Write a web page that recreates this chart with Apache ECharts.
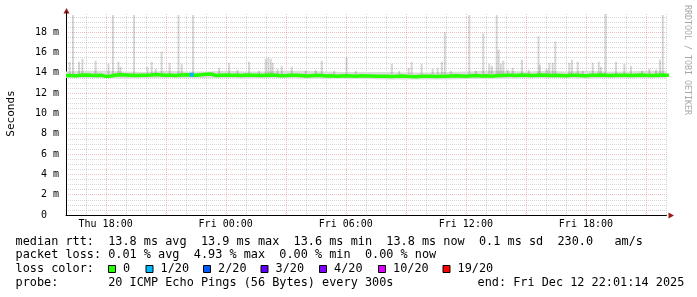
<!DOCTYPE html>
<html>
<head>
<meta charset="utf-8">
<script src="https://cdn.jsdelivr.net/npm/echarts@6/dist/echarts.min.js"></script>
<style>
html,body{margin:0;padding:0;background:#fff;}
#chart{width:697px;height:297px;}
</style>
</head>
<body>
<div id="chart"></div>
<script>
// ---------------- DATA ----------------
// x axis in hours counted from Thu 00:00 (Fri = 24+)
const startHour = 16 + 1/60 + 14/3600;   // Thu 16:01:14
const endHour = startHour + 30;          // Fri 22:01:14
const xTickHours = [18, 24, 30, 36, 42];
const xTickLabels = ['Thu 18:00', 'Fri 00:00', 'Fri 06:00', 'Fri 12:00', 'Fri 18:00'];
const hourGrid = [17,18,19,20,21,22,23,24,25,26,27,28,29,30,31,32,33,34,35,36,37,38,39,40,41,42,43,44,45,46];
const majorHourGrid = [18,21,24,27,30,33,36,39,42,45];

// median rtt (ms), one value every 15 minutes from startHour
const medianRtt = [
 13.75,13.74,13.72,13.78,13.80,13.76,13.74,13.76,13.66,13.70,13.80,13.82,13.80,13.78,13.74,13.76,13.78,13.80,13.84,13.80,13.76,13.76,13.74,13.80,13.82,13.80,13.76,13.82,13.86,13.88,13.74,
 13.78,13.80,13.76,13.78,13.74,13.80,13.78,13.76,13.74,13.78,13.80,13.76,13.72,13.74,13.78,13.76,13.74,13.70,13.72,13.76,13.74,13.70,13.72,13.68,13.70,13.72,13.70,13.68,13.72,13.70,
 13.70,13.68,13.66,13.68,13.64,13.66,13.70,13.66,13.64,13.62,13.66,13.68,13.66,13.64,13.66,13.68,13.70,13.72,13.70,13.68,13.72,13.74,13.70,13.72,13.68,13.72,13.74,13.76,13.78,13.74,
 13.80,13.78,13.74,13.76,13.80,13.78,13.74,13.76,13.74,13.72,13.76,13.78,13.74,13.72,13.76,13.78,13.80,13.76,13.74,13.76,13.78,13.76,13.74,13.78,13.80,13.76,13.74,13.78,13.80,13.76,13.78
];
// smoke band (lowest / highest ping), one value per hour from startHour
const smokeLow  = [13.50,13.50,13.50,13.45,13.50,13.50,13.50,13.50,13.50,13.45,13.50,13.50,13.45,13.45,13.45,13.40,13.35,13.35,13.35,13.35,13.40,13.45,13.45,13.50,13.50,13.50,13.45,13.50,13.50,13.50,13.50];
const smokeHigh = [14.15,14.20,14.20,14.15,14.10,14.20,14.15,14.15,14.20,14.15,14.15,14.20,14.20,14.15,14.10,14.10,14.10,14.05,14.05,14.10,14.15,14.20,14.20,14.15,14.20,14.15,14.20,14.15,14.15,14.20,14.20];
// smoke spikes: time (h) and highest ping (ms)
const spikeHours = [16.20,16.37,16.67,16.84,17.50,18.14,18.37,18.64,18.75,19.42,20.09,20.30,20.50,20.80,21.20,21.64,21.80,22.37,23.34,23.67,
 24.17,24.59,25.17,25.67,26.00,26.13,26.25,26.35,26.59,26.80,27.30,28.00,28.50,28.80,29.42,30.04,30.50,32.30,32.67,33.14,
 33.29,33.79,34.34,34.59,34.80,34.95,35.25,36.17,36.50,36.87,37.17,37.30,37.54,37.64,37.75,37.87,38.09,38.34,38.80,39.14,
 39.63,39.70,40.04,40.17,40.34,40.47,41.17,41.30,41.59,41.84,42.34,42.64,42.75,42.97,43.50,43.92,44.25,44.80,45.17,45.50,45.70,45.84];
const spikeTops = [15.1,19.7,15.1,15.4,15.2,14.9,19.7,15.1,14.6,19.7,14.6,15.1,14.4,16.1,15.0,19.7,14.9,19.7,14.1,14.5,
 15.0,14.3,15.1,14.2,15.4,15.5,15.4,15.0,14.4,14.7,14.6,14.2,14.3,15.2,14.2,15.5,14.2,14.9,14.2,14.5,
 15.1,14.9,14.4,14.5,15.1,18.0,14.2,19.7,14.2,17.9,14.9,14.7,19.7,16.3,14.9,15.2,14.3,14.5,15.3,14.3,
 17.6,14.8,14.4,15.0,15.0,17.1,15.0,15.3,15.1,14.2,15.0,15.1,14.6,19.8,15.1,14.9,14.7,14.2,14.4,14.3,15.3,19.7];
// loss events drawn on the median line: time (h), rtt (ms), loss legend index
const lossEvents = [[22.30, 13.82, 1]];

const lossLabels = ['0', '1/20', '2/20', '3/20', '4/20', '10/20', '19/20'];
const lossColors = ['#26ff00', '#00b8ff', '#0059ff', '#5e00ff', '#7e00ff', '#dd00ff', '#ff0000'];

const legendLine1 = 'median rtt:  13.8 ms avg  13.9 ms max  13.6 ms min  13.8 ms now  0.1 ms sd  230.0   am/s';
const legendLine2 = 'packet loss: 0.01 % avg  4.93 % max  0.00 % min  0.00 % now';
const legendLine3Label = 'loss color:';
const legendLine4 = 'probe:       20 ICMP Echo Pings (56 Bytes) every 300s';
const legendEnd = 'end: Fri Dec 12 22:01:14 2025';
const watermark = 'RRDTOOL / TOBI OETIKER';

// ---------------- CHART ----------------
const MONO = '"DejaVu Sans Mono", monospace';
const LEG_FONT = '11.85px ' + MONO;
const chart = echarts.init(document.getElementById('chart'), null, {renderer: 'canvas'});

const medianData = medianRtt.map((v, i) => [startHour + i * 0.25, v]);
const spikeData = spikeHours.map((h, i) => [h, spikeTops[i]]);

const majorGridColor = 'rgba(215,90,90,0.38)';
const minorGridColor = 'rgba(120,120,120,0.32)';

// layout positions for the loss-colour legend
const lossBoxX = [108.5, 146, 203.5, 261, 319.5, 378.5, 443];

const graphics = [
  {type: 'text', x: 15.5, y: 241.5, style: {text: legendLine1, font: LEG_FONT, fill: '#000', verticalAlign: 'middle'}},
  {type: 'text', x: 15.5, y: 255, style: {text: legendLine2, font: LEG_FONT, fill: '#000', verticalAlign: 'middle'}},
  {type: 'text', x: 15.5, y: 269, style: {text: legendLine3Label, font: LEG_FONT, fill: '#000', verticalAlign: 'middle'}},
  {type: 'text', x: 15.5, y: 282.5, style: {text: legendLine4, font: LEG_FONT, fill: '#000', verticalAlign: 'middle'}},
  {type: 'text', x: 477.5, y: 282.5, style: {text: legendEnd, font: LEG_FONT, fill: '#000', verticalAlign: 'middle'}},
  {type: 'text', x: 691.5, y: 5, rotation: -Math.PI / 2, style: {text: watermark, font: '8.3px ' + MONO, fill: '#a8a8a8', verticalAlign: 'top'}},
  // axis arrows
  {type: 'polygon', shape: {points: [[66.5, 8], [63.5, 13.5], [69.5, 13.5]]}, style: {fill: '#9a1c1c'}},
  {type: 'polygon', shape: {points: [[674, 215.5], [668.5, 212.5], [668.5, 218.5]]}, style: {fill: '#9a1c1c'}}
];
lossLabels.forEach((lab, k) => {
  graphics.push({type: 'rect', shape: {x: lossBoxX[k], y: 265.5, width: 7, height: 7},
    style: {fill: lossColors[k], stroke: '#000', lineWidth: 1}});
  graphics.push({type: 'text', x: lossBoxX[k] + 14.5, y: 269,
    style: {text: lab, font: LEG_FONT, fill: '#000', verticalAlign: 'middle'}});
});

const option = {
  animation: false,
  backgroundColor: '#fff',
  grid: {left: 66, right: 30.6, top: 12, bottom: 82, containLabel: false, outerBoundsMode: 'none'},
  xAxis: {
    type: 'value', min: startHour, max: endHour,
    axisLine: {show: true, lineStyle: {color: '#000', width: 1}},
    axisTick: {show: false},
    splitLine: {show: false},
    axisLabel: {
      customValues: xTickHours,
      formatter: v => xTickLabels[xTickHours.indexOf(Math.round(v))] || '',
      fontFamily: MONO, fontSize: 10, color: '#000', margin: 4
    }
  },
  yAxis: {
    type: 'value', min: 0, max: 20, interval: 2,
    name: 'Seconds', nameLocation: 'middle', nameGap: 49, nameRotate: 90,
    nameTextStyle: {fontFamily: MONO, fontSize: 11, color: '#000'},
    axisLine: {show: true, lineStyle: {color: '#000', width: 1}},
    axisTick: {show: false},
    axisLabel: {
      showMaxLabel: false,
      formatter: v => (v === 0 ? '0  ' : v + ' m'),
      fontFamily: MONO, fontSize: 10, color: '#000', margin: 7
    },
    splitLine: {show: true, showMaxLine: false, showMinLine: false, lineStyle: {color: majorGridColor, type: [1, 1], width: 1}},
    minorTick: {show: false, splitNumber: 4},
    minorSplitLine: {show: true, lineStyle: {color: minorGridColor, type: [1, 1], width: 1}}
  },
  graphic: graphics,
  series: [
    { // vertical grid lines
      type: 'custom', silent: true, z: 1,
      data: hourGrid.map(h => [h]),
      renderItem: (params, api) => {
        const h = api.value(0);
        const p0 = api.coord([h, 0]);
        const p1 = api.coord([h, 19.8]);
        const x = Math.round(p0[0]) + 0.5;
        const major = majorHourGrid.indexOf(h) >= 0;
        return {type: 'line', shape: {x1: x, y1: p0[1], x2: x, y2: p1[1]},
          style: {stroke: major ? majorGridColor : minorGridColor, lineWidth: 1, lineDash: [1, 1]}};
      }
    },
    { // smoke band
      type: 'custom', silent: true, z: 2,
      data: [[startHour, 14]],
      renderItem: (params, api) => {
        const pts = [];
        smokeHigh.forEach((v, i) => pts.push(api.coord([startHour + i, v])));
        for (let i = smokeLow.length - 1; i >= 0; i--) pts.push(api.coord([startHour + i, smokeLow[i]]));
        return {type: 'polygon', shape: {points: pts}, style: {fill: '#dcdcdc'}};
      }
    },
    { // smoke spikes
      type: 'custom', silent: true, z: 3,
      data: spikeData,
      renderItem: (params, api) => {
        const top = api.coord([api.value(0), api.value(1)]);
        const bot = api.coord([api.value(0), 13.9]);
        return {type: 'rect', shape: {x: top[0] - 1, y: top[1], width: 2, height: bot[1] - top[1]},
          style: {fill: 'rgba(0,0,0,0.16)'}};
      }
    },
    { // median rtt
      type: 'line', z: 5, data: medianData, symbol: 'none', silent: true,
      lineStyle: {color: '#26ff00', width: 3.5}
    },
    { // loss markers
      type: 'custom', silent: true, z: 6,
      data: lossEvents,
      renderItem: (params, api) => {
        const p = api.coord([api.value(0), api.value(1)]);
        return {type: 'rect', shape: {x: p[0] - 2, y: p[1] - 2, width: 4, height: 4},
          style: {fill: lossColors[api.value(2)]}};
      }
    }
  ]
};
chart.setOption(option);
</script>
</body>
</html>
